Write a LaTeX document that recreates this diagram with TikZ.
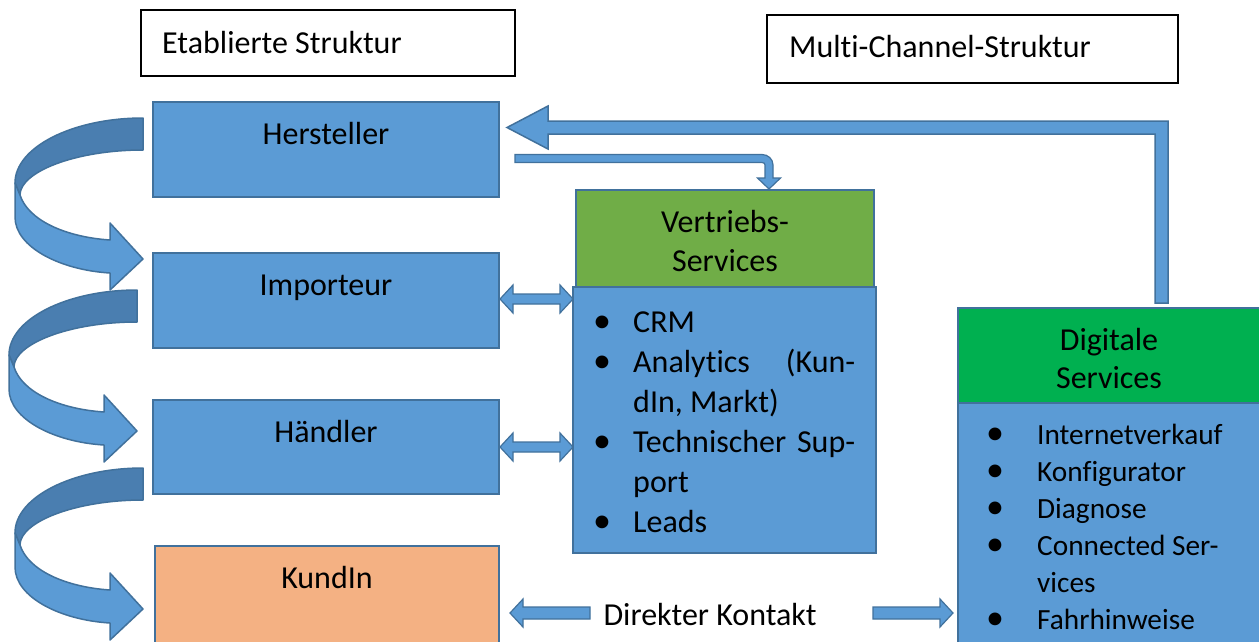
\documentclass[tikz,border=0pt]{standalone}
\usepackage{fontspec}
\setmainfont{Carlito}[Ligatures=NoCommon]
\definecolor{boxblue}{HTML}{5B9BD5}
\definecolor{edgeblue}{HTML}{41719C}
\definecolor{shadeblue}{HTML}{4A7EB0}
\definecolor{leafgreen}{HTML}{70AD47}
\definecolor{brightgreen}{HTML}{00B050}
\definecolor{peach}{HTML}{F4B183}
\newcommand\setsize[1]{\fontsize{#1}{#1}\selectfont}

\begin{document}
\begin{tikzpicture}[x=1pt,y=-1pt,
  panel/.style={rectangle, draw=edgeblue, line width=1.5pt, inner sep=0, outer sep=0, anchor=north west},
  titlebox/.style={rectangle, draw=black, line width=1.3pt, inner sep=0, outer sep=0, anchor=north west},
  lbl/.style={font=\setsize{32}, inner sep=0, anchor=base},
  item/.style={font=\setsize{32}, inner sep=0, anchor=base west},
  smallitem/.style={font=\setsize{29.3}, inner sep=0, anchor=base west},
  dot/.style={font=\setsize{36}, inner sep=0, anchor=base},
  blockarrow/.style={fill=boxblue, draw=edgeblue, line width=1.5pt, line join=miter},
  uturn/.pic={
    % back side of the ribbon
    \filldraw[fill=shadeblue, draw=edgeblue, line width=1.5pt, line join=round]
      (143,118) .. controls (73,118) and (15,147) .. (15,183)
      -- (20,195) .. controls (20,172) and (75,150) .. (143,150) -- cycle;
    % front side ending in the arrow head
    \filldraw[fill=boxblue, draw=edgeblue, line width=1.5pt, line join=round]
      (15,183) -- (15,217) .. controls (15,247) and (60,270) .. (110,273)
      -- (110,290) -- (143,259) -- (110,223) -- (110,240)
      .. controls (65,237) and (28,220) .. (20,195) -- cycle;
  }]
\useasboundingbox (0,0) rectangle (1259,641);
\clip (0,0) rectangle (1259,641);
\fill[white] (0,0) rectangle (1259,641);

% headings
\node[titlebox, minimum width=374, minimum height=66] (etab) at (141,10) {};
\node[lbl, anchor=base west] (etabT) at (162,53) {Etablierte Struktur};
\node[titlebox, minimum width=411, minimum height=68] (multi) at (767,15) {};
\node[lbl, anchor=base west] (multiT) at (789,57) {Multi-Channel-Struktur};

% established chain
\node[panel, fill=boxblue, minimum width=346, minimum height=95] (hersteller) at (153,102) {};
\node[lbl] (herstellerT) at (326,144) {Hersteller};
\node[panel, fill=boxblue, minimum width=346, minimum height=95] (importeur) at (153,253) {};
\node[lbl] (importeurT) at (326,295) {Importeur};
\node[panel, fill=boxblue, minimum width=346, minimum height=94] (haendler) at (153,400) {};
\node[lbl] (haendlerT) at (326,442) {Händler};
\node[panel, fill=peach, minimum width=344, minimum height=100] (kundin) at (155,546) {};
\node[lbl] (kundinT) at (327,588) {KundIn};

% turning arrows along the chain
\pic at (0,0) {uturn};
\pic at (-6,172) {uturn};
\pic at (0,350) {uturn};

% sales services
\node[panel, fill=leafgreen, minimum width=298, minimum height=97] (vertrieb) at (576,190) {};
\node[lbl] (vertriebT1) at (725,232) {Vertriebs-};
\node[lbl] (vertriebT2) at (725,271) {Services};
\node[panel, fill=boxblue, minimum width=303, minimum height=266] (vlist) at (573,287) {};
\node[dot] (vb1) at (602,332) {\textbullet};
\node[item] (vi1) at (633,332) {CRM};
\node[dot] (vb2) at (602,372) {\textbullet};
\node[item] (vi2) at (633,372) {\hbox to 222pt{Analytics\hfill(Kun-}};
\node[item] (vi3) at (633,412) {dIn, Markt)};
\node[dot] (vb4) at (602,452) {\textbullet};
\node[item] (vi4) at (633,452) {\hbox to 222pt{Technischer\hfill Sup-}};
\node[item] (vi5) at (633,492) {port};
\node[dot] (vb6) at (602,532) {\textbullet};
\node[item] (vi6) at (633,532) {Leads};

% digital services
\node[panel, fill=brightgreen, minimum width=303, minimum height=95] (digital) at (958,308) {};
\node[lbl] (digitalT1) at (1109,350) {Digitale};
\node[lbl] (digitalT2) at (1109,388) {Services};
\node[panel, fill=boxblue, minimum width=303, minimum height=245] (dlist) at (958,403) {};
\node[dot] (db1) at (995,444) {\textbullet};
\node[smallitem] (di1) at (1037,444) {Internetverkauf};
\node[dot] (db2) at (995,481) {\textbullet};
\node[smallitem] (di2) at (1037,481) {Konfigurator};
\node[dot] (db3) at (995,518) {\textbullet};
\node[smallitem] (di3) at (1037,518) {Diagnose};
\node[dot] (db4) at (995,555) {\textbullet};
\node[smallitem] (di4) at (1037,555) {Connected Ser-};
\node[smallitem] (di5) at (1037,592) {vices};
\node[dot] (db6) at (995,629) {\textbullet};
\node[smallitem] (di6) at (1037,629) {Fahrhinweise};

% feedback from digital services to the manufacturer
\filldraw[blockarrow]
  (507,127.5) -- (548,106) -- (548,121) -- (1168,121) -- (1168,303)
  -- (1155,303) -- (1155,134) -- (548,134) -- (548,149) -- cycle;

% manufacturer to sales services
\filldraw[blockarrow, line width=1.2pt]
  (515,154.5) -- (762,154.5) .. controls (768,154.5) and (773,159) .. (773,165)
  -- (773,178) -- (780.5,178) -- (769,189) -- (757.5,178) -- (765,178)
  -- (765,165) .. controls (765,163.5) and (764,162.5) .. (762,162.5)
  -- (515,162.5) -- cycle;

% two-way links to sales services
\foreach \c in {299,447} {
  \filldraw[blockarrow, line width=1.2pt]
    (500,\c) -- (513,\c-14) -- (513,\c-5) -- (560,\c-5) -- (560,\c-14)
    -- (573,\c) -- (560,\c+14) -- (560,\c+5) -- (513,\c+5) -- (513,\c+14) -- cycle;
}

% direct contact
\filldraw[blockarrow, line width=1.2pt]
  (510,613) -- (523,599) -- (523,607) -- (590,607) -- (590,619) -- (523,619) -- (523,627) -- cycle;
\filldraw[blockarrow, line width=1.2pt]
  (953,613) -- (940,599) -- (940,607) -- (873,607) -- (873,619) -- (940,619) -- (940,627) -- cycle;
\node[lbl] (kontakt) at (710,625) {Direkter Kontakt};
\end{tikzpicture}
\end{document}
